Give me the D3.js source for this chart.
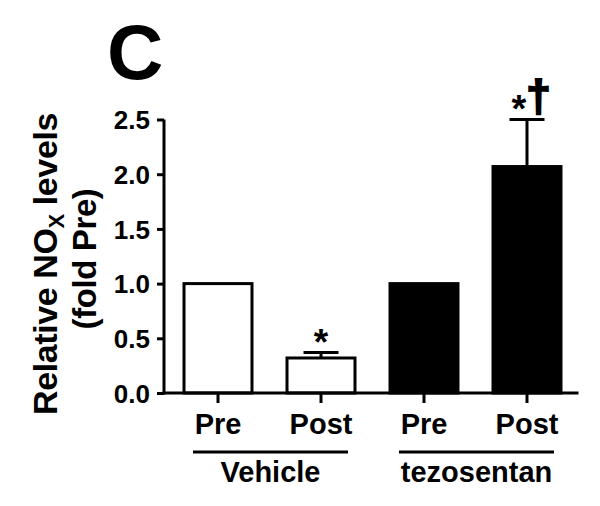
<!DOCTYPE html>
<html>
<head>
<meta charset="utf-8">
<script src="https://cdn.jsdelivr.net/npm/d3@7"></script>
<style>
  html, body { margin: 0; padding: 0; background: #fff; }
  svg { display: block; }
  text { font-family: "Liberation Sans", Arial, Helvetica, sans-serif; font-weight: bold; fill: #000; }
</style>
</head>
<body>
<script>
// ---- data ----
const categories = ["Vehicle Pre", "Vehicle Post", "tezosentan Pre", "tezosentan Post"];
const tickLabels = ["Pre", "Post", "Pre", "Post"];
const means = [1.0, 0.32, 1.0, 2.07];
const errors = [0, 0.05, 0, 0.43];
const fills = ["white", "white", "black", "black"];
const sigMarks = ["", "*", "", "*†"];
const groupNames = ["Vehicle", "tezosentan"];
const groupMembers = [[0, 1], [2, 3]];
const yTicks = [0, 0.5, 1.0, 1.5, 2.0, 2.5];

const W = 600, H = 506;
const svg = d3.select("body").append("svg").attr("width", W).attr("height", H);

const y = d3.scaleLinear().domain([0, 2.5]).range([393, 119.5]);
const x = d3.scaleBand().domain(categories).range([166.5, 578.5]).paddingInner(0.34).paddingOuter(0.17);
const bw = x.bandwidth();
const cx = i => x(categories[i]) + bw / 2;

// panel letter
svg.append("text").attr("x", 107).attr("y", 79).style("font-size", "78px").text("C");

// y axis
const yAxis = svg.append("g").attr("transform", "translate(164,0)")
  .call(d3.axisLeft(y).tickValues(yTicks).tickSize(7).tickSizeOuter(0).tickPadding(7).tickFormat(d3.format(".1f")));
yAxis.select(".domain").attr("stroke-width", 3).attr("d", `M0,${y(2.5)}V${y(0) + 1.5}`);
yAxis.selectAll(".tick line").attr("stroke-width", 3);
yAxis.selectAll(".tick text").style("font-size", "26px").attr("dy", "0.36em")
  .style("font-family", '"Liberation Sans", Arial, sans-serif').style("font-weight", "bold");

// bars
svg.selectAll("rect.bar").data(categories).enter().append("rect")
  .attr("class", "bar")
  .attr("x", d => x(d))
  .attr("width", bw)
  .attr("y", (d, i) => y(means[i]))
  .attr("height", (d, i) => y(0) - y(means[i]))
  .attr("fill", (d, i) => fills[i])
  .attr("stroke", "black")
  .attr("stroke-width", 3);

// error bars (upper only)
categories.forEach((c, i) => {
  if (errors[i] <= 0) return;
  const top = y(means[i] + errors[i]);
  svg.append("line").attr("x1", cx(i)).attr("x2", cx(i))
    .attr("y1", y(means[i])).attr("y2", top).attr("stroke", "black").attr("stroke-width", 3);
  svg.append("line").attr("x1", cx(i) - 17.5).attr("x2", cx(i) + 17.5)
    .attr("y1", top).attr("y2", top).attr("stroke", "black").attr("stroke-width", 3);
});

// x axis
const xAxis = svg.append("g").attr("transform", `translate(0,${y(0)})`)
  .call(d3.axisBottom(x).tickSize(10).tickSizeOuter(0).tickFormat((d, i) => tickLabels[i]));
xAxis.select(".domain").remove();
xAxis.selectAll(".tick line").attr("stroke-width", 3);
xAxis.selectAll(".tick text").style("font-size", "29px").attr("y", 41).attr("dy", 0)
  .style("font-family", '"Liberation Sans", Arial, sans-serif').style("font-weight", "bold");
svg.append("line").attr("x1", 162.5).attr("x2", 578.5).attr("y1", y(0)).attr("y2", y(0))
  .attr("stroke", "black").attr("stroke-width", 3);

// significance marks
sigMarks.forEach((m, i) => {
  if (!m) return;
  const top = y(means[i] + errors[i]);
  const chars = Array.from(m);
  if (chars.length === 1) {
    svg.append("text").attr("x", cx(i)).attr("y", top + 2).attr("text-anchor", "middle")
      .style("font-size", "37px").text(chars[0]);
  } else {
    svg.append("text").attr("x", cx(i) - 8).attr("y", top + 2).attr("text-anchor", "middle")
      .style("font-size", "38px").text(chars[0]);
    svg.append("text").attr("x", cx(i) + 11.5).attr("y", top - 9).attr("text-anchor", "middle")
      .attr("stroke", "black").attr("stroke-width", 2)
      .style("font-size", "44px").text(chars[1]);
  }
});

// group labels
groupNames.forEach((g, k) => {
  const [a, b] = groupMembers[k];
  const x1 = cx(a) - 25, x2 = cx(b) + 27;
  svg.append("line").attr("x1", x1).attr("x2", x2).attr("y1", 452).attr("y2", 452)
    .attr("stroke", "black").attr("stroke-width", 3);
  svg.append("text").attr("x", (x1 + x2) / 2).attr("y", 482).attr("text-anchor", "middle")
    .style("font-size", "29px").text(g);
});

// y title
const yt = svg.append("text").attr("transform", "translate(57,264) rotate(-90)")
  .attr("text-anchor", "middle").style("font-size", "34px").style("letter-spacing", "-0.4px");
yt.append("tspan").text("Relative NO");
yt.append("tspan").attr("dy", 7).style("font-size", "22px").text("X");
yt.append("tspan").attr("dy", -7).text(" levels");
svg.append("text").attr("transform", "translate(96,259) rotate(-90)")
  .attr("text-anchor", "middle").style("font-size", "33px").style("letter-spacing", "-0.4px").text("(fold Pre)");
</script>
</body>
</html>
